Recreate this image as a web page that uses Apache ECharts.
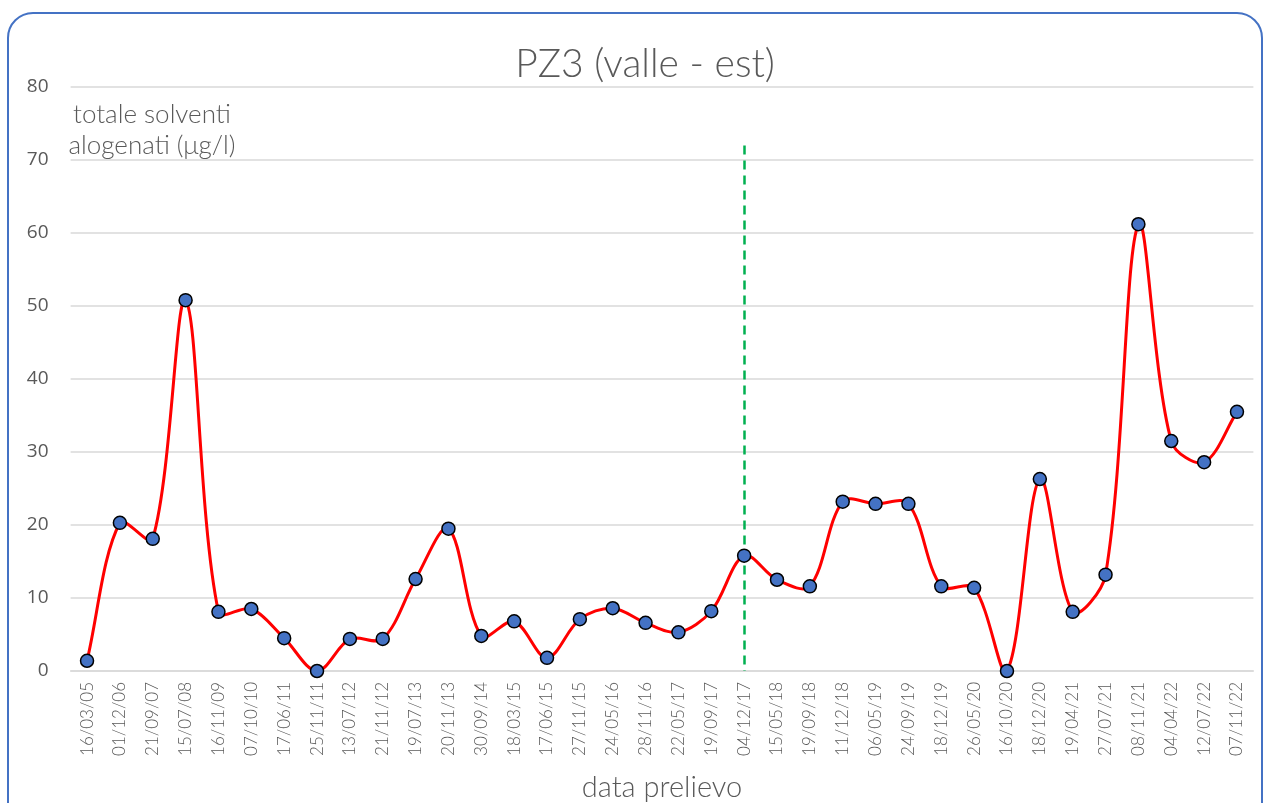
<!DOCTYPE html>
<html>
<head>
<meta charset="utf-8">
<script src="https://cdn.jsdelivr.net/npm/echarts@6/dist/echarts.min.js"></script>
<style>
html,body{margin:0;padding:0;background:#fff;overflow:hidden;}
#frame{position:absolute;left:7px;top:12px;width:1256px;height:820px;border:2px solid #4472C4;border-radius:26px;box-sizing:border-box;}
#chart{position:absolute;left:0;top:0;width:1264px;height:803px;}
</style>
</head>
<body>
<div id="frame"></div>
<div id="chart"></div>
<script>
const categories = ["16/03/05","01/12/06","21/09/07","15/07/08","16/11/09","07/10/10","17/06/11","25/11/11","13/07/12","21/11/12","19/07/13","20/11/13","30/09/14","18/03/15","17/06/15","27/11/15","24/05/16","28/11/16","22/05/17","19/09/17","04/12/17","15/05/18","19/09/18","11/12/18","06/05/19","24/09/19","18/12/19","26/05/20","16/10/20","18/12/20","19/04/21","27/07/21","08/11/21","04/04/22","12/07/22","07/11/22"];
const values = [1.4,20.3,18.1,50.8,8.1,8.5,4.5,0,4.4,4.4,12.6,19.5,4.8,6.8,1.8,7.1,8.6,6.6,5.3,8.2,15.8,12.5,11.6,23.2,22.9,22.9,11.6,11.4,0,26.3,8.1,13.2,61.2,31.5,28.6,35.5];
const markerCategory = "04/12/17";
const markerTop = 72;
const yTicks = [0,10,20,30,40,50,60,70,80];

const chart = echarts.init(document.getElementById('chart'), null, {renderer:'canvas'});
const txt = '#595959';
const n = values.length;

function dist(a, b) { return Math.hypot(b[0] - a[0], b[1] - a[1]); }

function renderSegment(params, api) {
  const i = params.dataIndex;
  if (i >= n - 1) return null;
  const i0 = Math.max(0, i - 1), i3 = Math.min(n - 1, i + 2);
  const p0 = api.coord([i0, values[i0]]);
  const p1 = api.coord([i, values[i]]);
  const p2 = api.coord([i + 1, values[i + 1]]);
  const p3 = api.coord([i3, values[i3]]);
  const d01 = dist(p0, p1), d12 = dist(p1, p2), d23 = dist(p2, p3);
  const a = (d01 + d12) > 0 ? (d12 / (d01 + d12)) / 3 : 0;
  const b = (d12 + d23) > 0 ? (d12 / (d12 + d23)) / 3 : 0;
  return {
    type: 'bezierCurve',
    shape: {
      x1: p1[0], y1: p1[1], x2: p2[0], y2: p2[1],
      cpx1: p1[0] + (p2[0] - p0[0]) * a, cpy1: p1[1] + (p2[1] - p0[1]) * a,
      cpx2: p2[0] - (p3[0] - p1[0]) * b, cpy2: p2[1] - (p3[1] - p1[1]) * b
    },
    style: { stroke: '#ff0000', lineWidth: 3, fill: null, lineCap: 'round' }
  };
}

chart.setOption({
  animation:false,
  title:{text:'PZ3 (valle - est)',left:640,top:40,textAlign:'center',
    textStyle:{fontFamily:'Lato',fontWeight:300,fontSize:39,color:txt}},
  grid:{left:70.6,right:10.6,top:87,bottom:132},
  graphic:[
    {type:'text',x:152,y:115,style:{text:'totale solventi',font:'300 26px Lato',fill:txt,textAlign:'center',textVerticalAlign:'middle'}},
    {type:'text',x:152,y:146,style:{text:'alogenati (μg/l)',font:'300 26px Lato',fill:txt,textAlign:'center',textVerticalAlign:'middle'}},
    {type:'text',x:662,y:788,style:{text:'data prelievo',font:'300 29px Lato',fill:txt,textAlign:'center',textVerticalAlign:'middle'}}
  ],
  xAxis:{type:'category',data:categories,boundaryGap:true,
    axisLine:{show:true,lineStyle:{color:'#d9d9d9',width:1.5}},
    axisTick:{show:false},
    axisLabel:{rotate:90,interval:0,margin:11,fontFamily:'Lato',fontWeight:300,fontSize:17,color:txt}},
  yAxis:{type:'value',min:yTicks[0],max:yTicks[yTicks.length-1],interval:10,
    axisLine:{show:false},axisTick:{show:false},
    axisLabel:{margin:22,fontFamily:'Open Sans',fontSize:19,color:txt},
    splitLine:{lineStyle:{color:'#d9d9d9',width:1.5}}},
  series:[{
    type:'custom',
    data: values.map((v, i) => [i, v]),
    encode:{x:0,y:1},
    renderItem: renderSegment,
    clip:false,
    silent:true,
    z:4
  },{
    type:'scatter',data:values,
    symbol:'circle',symbolSize:13,
    itemStyle:{color:'#4472C4',borderColor:'#000',borderWidth:1.5,opacity:1},
    z:5
  },{
    type:'line',data:[],z:1,
    markLine:{symbol:['none','none'],silent:true,label:{show:false},
      lineStyle:{color:'#00b050',type:[9,6],width:2.5},
      data:[[{coord:[markerCategory,markerTop]},{coord:[markerCategory,0]}]]}
  }]
});
</script>
</body>
</html>
